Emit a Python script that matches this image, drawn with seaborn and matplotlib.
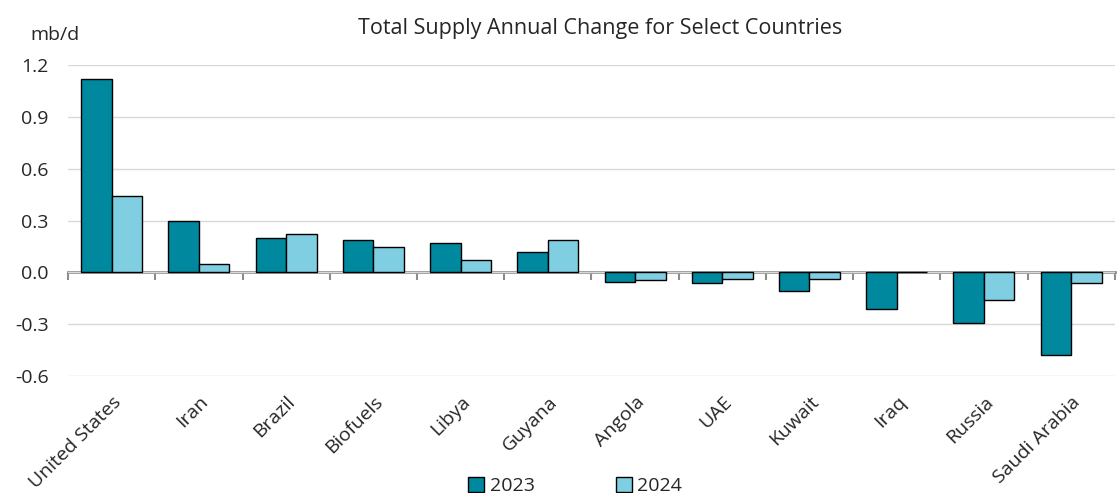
import numpy as np
import pandas as pd
import matplotlib
matplotlib.use("Agg")
import matplotlib.pyplot as plt
import seaborn as sns

countries = ["United States", "Iran", "Brazil", "Biofuels", "Libya", "Guyana",
             "Angola", "UAE", "Kuwait", "Iraq", "Russia", "Saudi Arabia"]
chg_2023 = [1.12, 0.30, 0.20, 0.19, 0.17, 0.12, -0.055, -0.06, -0.105, -0.21, -0.29, -0.475]
chg_2024 = [0.445, 0.05, 0.22, 0.145, 0.07, 0.185, -0.045, -0.04, -0.035, 0.005, -0.16, -0.06]
years = ["2023", "2024"]
colors = ["#00889E", "#80CEE1"]

df = pd.DataFrame({
    "country": countries * 2,
    "year": [years[0]] * len(countries) + [years[1]] * len(countries),
    "value": chg_2023 + chg_2024,
})

sns.set_style("white")
plt.rcParams["font.family"] = ["Open Sans", "DejaVu Sans"]
plt.rcParams["axes.unicode_minus"] = False

fig = plt.figure(figsize=(11.17, 4.93), dpi=100)
ax = fig.add_axes([0.061, 0.237, 0.937, 0.631])

sns.barplot(data=df, x="country", y="value", hue="year", order=countries,
            hue_order=years, palette=colors, width=0.7, edgecolor="black",
            linewidth=1, saturation=1, ax=ax, legend=False)

ax.set_ylim(-0.6, 1.2)
ax.set_xlim(-0.5, len(countries) - 0.5)
ax.set_yticks(np.arange(-0.6, 1.21, 0.3))
ax.yaxis.set_major_formatter(matplotlib.ticker.FormatStrFormatter("%.1f"))
ax.grid(axis="y", color="#d9d9d9", linewidth=1)
ax.set_axisbelow(True)
for s in ax.spines.values():
    s.set_visible(False)
ax.tick_params(axis="y", length=0, labelsize=14, pad=14)
ax.tick_params(axis="x", length=0, labelsize=14, pad=12)
ax.set_xlabel("")
ax.set_ylabel("")
plt.setp(ax.get_xticklabels(), rotation=45, ha="right", rotation_mode="anchor")

# zero line with category separator ticks
sec = ax.secondary_xaxis(0, transform=ax.transData)
sec.set_xticks(np.arange(-0.5, len(countries), 1.0))
sec.set_xticklabels([])
sec.tick_params(axis="x", direction="out", length=6, width=1.5, color="#8c8c8c")
sec.spines["bottom"].set_color("#8c8c8c")
sec.spines["bottom"].set_linewidth(2)

fig.text(0.027, 0.929, "mb/d", fontsize=14, ha="left", va="center")
fig.text(0.537, 0.942, "Total Supply Annual Change for Select Countries",
         fontsize=15.5, ha="center", va="center")

handles = [matplotlib.patches.Patch(facecolor=c, edgecolor="black", linewidth=1)
           for c in colors]
fig.legend(handles, years, loc="lower center", bbox_to_anchor=(0.515, -0.04),
           ncol=2, frameon=False, fontsize=14, handlelength=0.8,
           handleheight=0.8, handletextpad=0.3, columnspacing=4.2)

fig.savefig("out.png", dpi=100)
